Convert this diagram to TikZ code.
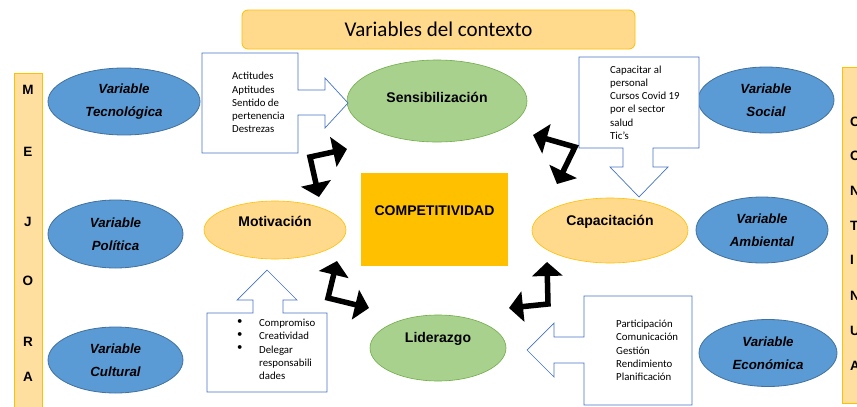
\documentclass[tikz,border=0pt]{standalone}
\usepackage{fontspec}
\setmainfont{Liberation Sans}
\newfontfamily\calfont{Carlito}
\usetikzlibrary{shapes.geometric,arrows.meta}
\definecolor{blueF}{HTML}{5B9BD5}
\definecolor{blueD}{HTML}{41719C}
\definecolor{greenF}{HTML}{A9D18E}
\definecolor{greenD}{HTML}{70AD47}
\definecolor{orF}{HTML}{FFD98C}
\definecolor{orD}{HTML}{FFC000}
\definecolor{barF}{HTML}{FFDFA0}
\definecolor{callD}{HTML}{4472C4}
\pgfdeclarelayer{bg}
\pgfsetlayers{bg,main}
\begin{document}
\begin{tikzpicture}[x=1pt,y=-1pt,
  bluevar/.style={ellipse, draw=blueD, fill=blueF, line width=0.8pt, inner sep=0pt,
    align=center, font=\bfseries\itshape\fontsize{13.3}{23}\selectfont},
  greenell/.style={ellipse, draw=greenD, fill=greenF, line width=0.6pt, inner sep=0pt},
  orell/.style={ellipse, draw=orD, fill=orF, line width=0.6pt, inner sep=0pt},
  lbl/.style={inner sep=0pt, font=\bfseries\fontsize{14}{16}\selectfont},
  barbox/.style={draw=orD, fill=barF, line width=0.8pt, inner sep=0pt, anchor=north west},
  barletter/.style={inner sep=0pt, font=\bfseries\fontsize{13.5}{16}\selectfont},
  callout/.style={draw=callD, fill=white, line width=0.7pt, line join=miter},
  calltext/.style={inner sep=0pt, anchor=west, align=left, font=\calfont\fontsize{10.8}{13.2}\selectfont},
  bentarr/.style={line width=5.5pt, line join=miter,
    {Triangle[width=30pt,length=14pt]}-{Triangle[width=30pt,length=14pt]}},
  conn/.style={line width=1.2pt, black}
]
\useasboundingbox (0,0) rectangle (857,407);
\clip (0,0) rectangle (857,407);
\fill[white] (0,0) rectangle (857,407);

% title
\node[draw=orD, fill=orF, line width=0.8pt, rounded corners=6pt, minimum width=393pt,
  minimum height=39pt, inner sep=0pt, font=\calfont\fontsize{21}{24}\selectfont]
  (title) at (438.5,29.5) {Variables del contexto};

% side bars
\node[barbox, minimum width=28pt, minimum height=350pt] (mejbar) at (14,73) {};
\node[barletter] (m1) at (28,90) {M};
\node[barletter] (m2) at (28,152) {E};
\node[barletter] (m3) at (28,222) {J};
\node[barletter] (m4) at (28,281) {O};
\node[barletter] (m5) at (28,342) {R};
\node[barletter] (m6) at (28,377) {A};

\node[barbox, minimum width=30pt, minimum height=336pt] (conbar) at (842,67) {};
\node[barletter, anchor=west] (c1) at (850,122) {C};
\node[barletter, anchor=west] (c2) at (850,156) {O};
\node[barletter, anchor=west] (c3) at (850,191) {N};
\node[barletter, anchor=west] (c4) at (850,226) {T};
\node[barletter, anchor=west] (c5) at (850,260) {I};
\node[barletter, anchor=west] (c6) at (850,296) {N};
\node[barletter, anchor=west] (c7) at (850,331) {U};
\node[barletter, anchor=west] (c8) at (850,366) {A};

% blue variables
\node[bluevar, minimum width=152pt, minimum height=67pt] (tec) at (124,101.5) {Variable\\Tecnológica};
\node[bluevar, minimum width=135pt, minimum height=68pt] (pol) at (115.5,234) {Variable\\Política};
\node[bluevar, minimum width=135pt, minimum height=66pt] (cul) at (115.5,360) {Variable\\Cultural};
\node[bluevar, minimum width=136pt, minimum height=66pt] (soc) at (766,100) {Variable\\Social};
\node[bluevar, minimum width=132pt, minimum height=66pt] (amb) at (762,230) {Variable\\Ambiental};
\node[bluevar, minimum width=138pt, minimum height=67pt] (eco) at (768,353) {Variable\\Económica};

% connector lines (behind)
\coordinate (lx) at (113,24);
\coordinate (rx) at (762,25);
\begin{pgfonlayer}{bg}
\draw[conn] (title.west |- lx) -- (lx) -- (lx |- cul.center);
\draw[conn] (title.east |- rx) -- (rx) -- (rx |- eco.center);
\end{pgfonlayer}

% centre
\node[fill=orD, minimum width=147pt, minimum height=93pt, inner sep=0pt] (comp) at (434.5,219.5) {};
\node[lbl] (compt) at (434.5,211) {COMPETITIVIDAD};

\node[greenell, minimum width=180pt, minimum height=82pt] (sens) at (437,101) {};
\node[lbl] (senst) at (437,97) {Sensibilización};
\node[greenell, minimum width=136pt, minimum height=66pt] (lid) at (438,348) {};
\node[lbl] (lidt) at (438,339) {Liderazgo};
\node[orell, minimum width=142pt, minimum height=58pt] (mot) at (275,230) {};
\node[lbl] (mott) at (275,221) {Motivación};
\node[orell, minimum width=156pt, minimum height=65pt] (cap) at (610,230.5) {};
\node[lbl] (capt) at (610,222) {Capacitación};

% callouts
\draw[callout] (202,53) -- (298,53) -- (298,90) -- (325,90) -- (325,78) -- (348,103)
  -- (325,128) -- (325,115) -- (298,115) -- (298,153) -- (202,153) -- cycle;
\node[calltext] (t1) at (232,102.5) {Actitudes\\Aptitudes\\Sentido de\\pertenencia\\Destrezas};

\draw[callout] (579,57) -- (699,57) -- (699,148) -- (653,148) -- (653,167) -- (668,167)
  -- (639,197) -- (610,167) -- (623,167) -- (623,148) -- (579,148) -- cycle;
\node[calltext] (t2) at (610,102.5) {Capacitar al\\personal\\Cursos Covid 19\\por el sector\\salud\\Tic’s};

\draw[callout] (207,313) -- (253,313) -- (253,300) -- (237,300) -- (267,270) -- (297,300)
  -- (283,300) -- (283,313) -- (327,313) -- (327,392) -- (207,392) -- cycle;
\node[calltext, anchor=north west] (t3b) at (237,319) {•\\•\\•};
\node[calltext, anchor=north west] (t3) at (259,319) {Compromiso\\Creatividad\\Delegar\\responsabili\\dades};

\draw[callout] (692,296) -- (692,405) -- (584,405) -- (584,363) -- (554,363) -- (554,377)
  -- (527,350) -- (554,323) -- (554,337) -- (584,337) -- (584,296) -- cycle;
\node[calltext] (t4) at (616,350.5) {Participación\\Comunicación\\Gestión\\Rendimiento\\Planificación};

% bent double arrows
\draw[bentarr] (347,149) -- (310,157) -- (319,197);
\draw[bentarr] (533,135) -- (575,147) -- (557,184);
\draw[bentarr] (337,261) -- (328,298) -- (369,308);
\draw[bentarr] (547,262) -- (548,304) -- (509,308);
\end{tikzpicture}
\end{document}
